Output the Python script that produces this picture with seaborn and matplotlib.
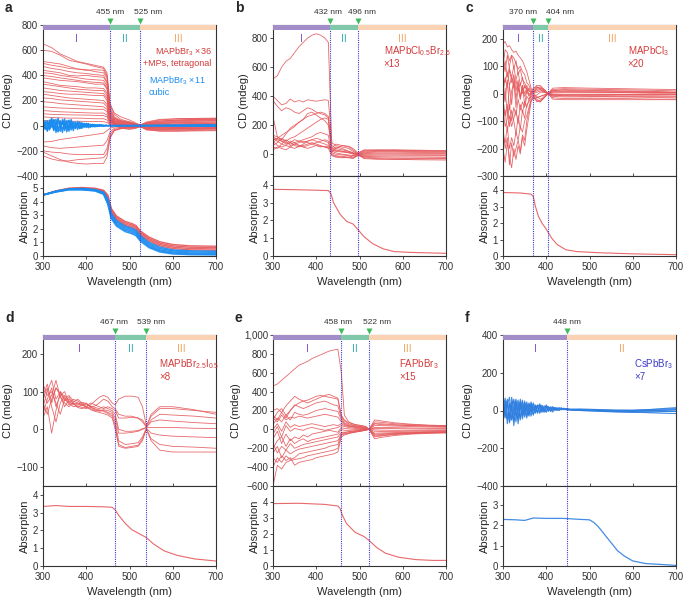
import numpy as np
import pandas as pd
import matplotlib.pyplot as plt
import seaborn as sns
from matplotlib.ticker import FuncFormatter

# ---------------- panel a : MAPbBr3 ----------------
wl_a = [300, 320, 340, 360, 380, 400, 420, 440, 448, 455, 465, 480, 500, 515, 525, 540, 570, 610, 650, 700]
cd_a_red = [
    [650, 620, 570, 540, 510, 495, 480, 465, 420, 180, 90, 50, 30, 15, 5, 25, 45, 55, 58, 60],
    [600, 590, 560, 520, 505, 490, 470, 455, 400, 150, 70, 40, 20, 10, 2, 20, 35, 45, 50, 52],
    [510, 500, 490, 470, 450, 445, 430, 420, 380, 160, 100, 70, 45, 20, 5, 15, 30, 40, 42, 45],
    [495, 480, 470, 455, 450, 440, 445, 440, 390, 130, 60, 30, 15, 5, 0, 10, 20, 30, 35, 38],
    [470, 455, 445, 430, 420, 415, 405, 400, 350, 120, 50, 20, 10, 5, 0, 5, 15, 22, 25, 28],
    [440, 430, 420, 400, 395, 400, 390, 385, 340, 110, 40, 15, 5, 0, -3, -5, 5, 12, 15, 18],
    [420, 415, 400, 390, 380, 370, 365, 360, 320, 100, 30, 10, 0, -5, -5, -10, 0, 5, 8, 10],
    [400, 390, 380, 370, 360, 350, 345, 340, 300, 90, 25, 5, -5, -8, -5, -15, -10, -5, 0, 2],
    [380, 370, 360, 355, 350, 340, 330, 330, 290, 80, 20, 0, -10, -10, -5, -20, -20, -15, -10, -8],
    [350, 335, 320, 315, 310, 300, 300, 295, 260, 70, 15, -5, -15, -12, -6, -25, -30, -25, -20, -18],
    [330, 320, 310, 300, 290, 285, 280, 280, 240, 60, 10, -10, -20, -15, -6, -30, -35, -35, -30, -28],
    [300, 290, 280, 275, 270, 265, 260, 255, 220, 50, 5, -15, -25, -18, -8, -35, -40, -40, -38, -35],
    [270, 265, 255, 250, 250, 245, 240, 240, 200, 45, 0, -20, -30, -20, -8, -30, -45, -45, -42, -40],
    [250, 240, 230, 220, 215, 210, 205, 200, 170, 40, 60, 40, 30, 15, 5, 30, 50, 55, 56, 58],
    [220, 215, 205, 200, 195, 190, 185, 180, 150, 35, 50, 35, 25, 12, 3, 20, 38, 45, 48, 50],
    [190, 185, 175, 170, 165, 160, 155, 150, 130, 30, 40, 30, 20, 10, 2, 15, 25, 35, 38, 40],
    [150, 145, 140, 138, 135, 132, 130, 130, 110, 25, 35, 25, 15, 8, 2, 10, 18, 25, 28, 30],
    [120, 115, 110, 108, 105, 102, 100, 100, 85, 20, 25, 18, 10, 5, 0, 5, 10, 15, 18, 20],
    [95, 90, 88, 86, 85, 84, 82, 80, 70, 15, 20, 12, 5, 2, 0, 0, 5, 8, 10, 12],
    [70, 65, 62, 60, 60, 58, 55, 55, 45, 10, 15, 8, 2, 0, -2, -5, -2, 0, 3, 5],
    [40, 38, 36, 35, 35, 34, 33, 32, 25, 5, 10, 5, 0, -2, -3, -10, -10, -8, -5, -3],
    [-130, -125, -110, -100, -90, -80, -70, -60, -40, -20, -10, -5, -5, -5, -5, -20, -25, -25, -22, -20],
    [-160, -175, -180, -175, -170, -165, -160, -155, -120, -50, -20, -15, -10, -8, -6, -25, -30, -30, -28, -25],
    [-200, -210, -215, -225, -230, -230, -228, -230, -180, -70, -30, -20, -15, -10, -7, -15, -20, -22, -22, -20],
    [-210, -240, -270, -290, -300, -305, -300, -300, -250, -100, -40, -25, -15, -10, -6, -12, -15, -18, -18, -16],
    [-240, -265, -280, -280, -270, -265, -260, -255, -220, -90, -35, -22, -12, -8, -6, -10, -12, -14, -14, -12],
]
wl_a_noise = list(range(300, 451, 5))
wl_a_tail = [465, 500, 550, 600, 650, 700]
cd_a_blue_noise = [
    [15, -30, 40, -10, 55, -35, 20, 60, -20, 35, -40, 25, 45, -15, 30, -25, 20, -10, 25, -15, 10, 18, -8, 12, -10, 8, -5, 6, -3, 4, 0],
    [-20, 25, -45, 30, -10, 50, -55, 15, 40, -30, 20, -50, 10, 35, -20, 15, -30, 25, -5, 20, -15, 5, 12, -10, 8, -6, 10, -4, 5, -2, 1],
    [30, 5, -25, 45, 10, -40, 35, -15, -45, 50, 5, -20, 40, -35, 15, 30, -10, -20, 15, -5, 20, -12, 5, 10, -8, 5, -6, 3, -4, 2, 0],
    [-5, 40, 10, -35, 25, 45, -20, -50, 30, 10, 55, -25, -5, 25, -40, 20, 10, -25, 5, 15, -10, 8, -12, 6, 5, -8, 4, -3, 2, -1, 0],
    [20, -15, -40, 20, 60, -10, -30, 45, 5, -55, 30, 15, -30, 50, 0, -20, 35, -15, -20, 10, 12, -18, 6, -5, 10, -4, 3, 6, -3, 1, 0],
    [-35, 10, 30, -25, -5, 35, 50, -40, 15, 25, -15, 40, -45, 0, 20, -10, 15, 30, -20, 5, -5, 15, -10, 8, -4, 6, -2, 4, -2, 3, 1],
]
cd_a_blue_tail = [
    [2, 1, 0, -2, -4, -5],
    [-1, 0, 2, 3, 4, 5],
    [1, -1, -2, -3, -3, -4],
    [0, 1, 1, 2, 2, 3],
    [-2, -2, -1, -1, 0, 0],
    [1, 2, 3, 4, 6, 7],
]
wl_a_abs = [300, 330, 360, 390, 420, 440, 450, 458, 470, 490, 505, 515, 525, 545, 570, 600, 640, 700]
abs_a_red = [
    [4.5, 4.8, 5.0, 5.05, 5.0, 4.85, 4.5, 3.5, 2.95, 2.55, 2.4, 2.25, 1.85, 1.4, 1.05, 0.85, 0.75, 0.72],
    [4.5, 4.8, 4.98, 5.02, 4.95, 4.8, 4.4, 3.4, 2.85, 2.45, 2.3, 2.15, 1.75, 1.3, 0.95, 0.75, 0.65, 0.62],
    [4.5, 4.78, 4.95, 5.0, 4.92, 4.75, 4.3, 3.3, 2.75, 2.35, 2.2, 2.05, 1.65, 1.2, 0.85, 0.65, 0.55, 0.52],
    [4.5, 4.78, 4.95, 4.98, 4.9, 4.72, 4.25, 3.2, 2.65, 2.25, 2.1, 1.95, 1.55, 1.1, 0.75, 0.55, 0.45, 0.42],
]
abs_a_blue = [
    [4.5, 4.78, 4.95, 4.98, 4.9, 4.7, 4.2, 3.15, 2.6, 2.2, 2.05, 1.9, 1.5, 1.0, 0.65, 0.45, 0.38, 0.35],
    [4.5, 4.76, 4.93, 4.95, 4.88, 4.68, 4.1, 3.05, 2.5, 2.1, 1.95, 1.8, 1.4, 0.9, 0.55, 0.38, 0.3, 0.28],
    [4.5, 4.75, 4.92, 4.93, 4.85, 4.65, 4.0, 2.95, 2.4, 2.0, 1.85, 1.7, 1.3, 0.8, 0.45, 0.3, 0.22, 0.2],
    [4.5, 4.74, 4.9, 4.9, 4.82, 4.6, 3.9, 2.85, 2.3, 1.9, 1.75, 1.6, 1.2, 0.7, 0.38, 0.22, 0.15, 0.13],
    [4.5, 4.72, 4.88, 4.88, 4.8, 4.55, 3.8, 2.75, 2.2, 1.8, 1.65, 1.5, 1.1, 0.62, 0.3, 0.15, 0.1, 0.08],
]

# ---------------- panel b : MAPbCl0.5Br2.5 ----------------
wl_b = [300, 310, 320, 330, 340, 350, 360, 370, 380, 390, 400, 410, 420, 428, 436,
        445, 460, 475, 485, 496, 510, 540, 580, 630, 700]
cd_b = [
    [520, 540, 600, 640, 660, 700, 740, 770, 800, 820, 830, 820, 800, 770, 60, 40, 30, 20, 10, 0, 15, 20, 20, 18, 15],
    [400, 370, 340, 350, 380, 360, 370, 360, 375, 370, 365, 370, 375, 370, 80, 60, 50, 40, 20, 5, 20, 25, 25, 22, 20],
    [370, 330, 300, 320, 310, 290, 280, 300, 320, 310, 290, 280, 270, 250, 40, 30, 20, 10, 0, -5, 10, 15, 15, 12, 10],
    [260, 120, 100, 140, 180, 200, 220, 240, 260, 270, 280, 290, 280, 260, 30, 20, 15, 10, 5, 0, 5, 8, 8, 6, 5],
    [100, 110, 130, 150, 170, 190, 220, 240, 280, 290, 270, 250, 230, 200, 20, 10, 0, -5, -10, -5, 0, 2, 2, 0, 0],
    [130, 120, 100, 90, 110, 120, 140, 160, 180, 200, 220, 240, 250, 240, 10, 0, -5, -10, -20, -8, -5, -5, -5, -6, -8],
    [120, 100, 90, 80, 70, 80, 90, 100, 110, 120, 140, 150, 140, 130, 0, -10, -15, -20, -25, -10, -10, -12, -12, -12, -12],
    [80, 110, 90, 70, 80, 100, 90, 80, 90, 100, 110, 100, 90, 80, -5, -15, -20, -25, -30, -10, -15, -18, -20, -20, -22],
    [60, 80, 110, 90, 60, 70, 80, 90, 80, 70, 80, 90, 100, 90, 20, 25, 20, 15, 5, 0, -20, -25, -28, -30, -32],
    [50, 40, 70, 100, 80, 60, 50, 70, 90, 100, 90, 80, 70, 60, 15, 40, 60, 50, 30, 5, -25, -30, -35, -38, -40],
    [90, 60, 50, 60, 90, 80, 60, 50, 60, 70, 60, 50, 55, 50, 40, 70, 60, 55, 40, 10, 25, 28, 30, 28, 25],
    [30, 50, 40, 30, 50, 70, 60, 50, 40, 50, 60, 55, 50, 45, 25, 50, 40, 20, 10, 3, 30, 30, 28, 25, 22],
    [110, 90, 70, 60, 50, 40, 55, 60, 70, 80, 70, 60, 50, 40, -10, -20, -25, -20, -10, -2, -30, -35, -35, -33, -30],
]
wl_b_abs = [300, 350, 400, 428, 434, 440, 455, 470, 485, 496, 510, 530, 555, 580, 620, 700]
abs_b = [[3.75, 3.73, 3.7, 3.68, 3.5, 3.0, 2.35, 1.95, 1.8, 1.5, 1.1, 0.7, 0.4, 0.25, 0.2, 0.15]]

# ---------------- panel c : MAPbCl3 ----------------
wl_c = list(range(300, 366, 5)) + [370, 378, 386, 395, 404, 415, 440, 500, 580, 650, 700]
cd_c = [
    [180, 190, 170, 175, 160, 150, 155, 140, 130, 120, 100, 80, 50, 20] + [5, 10, 15, 10, 0, 10, 15, 12, 10, 8, 5],
    [100, 160, 150, 120, 140, 130, 110, 90, 100, 80, 70, 40, 30, 10] + [0, 20, 25, 15, 0, -5, -8, -10, -12, -14, -15],
    [60, 40, 80, 30, 60, 20, 50, 10, 40, 0, 30, 10, 20, 0] + [5, 25, 20, 10, 0, 15, 18, 16, 14, 12, 10],
    [-50, 20, -80, 30, -40, 60, -20, 40, -10, 30, 0, 20, -5, 5] + [0, -10, -20, -15, 0, -15, -18, -18, -18, -20, -20],
    [-100, -60, -140, -80, -120, -90, -60, -110, -40, -70, -30, -50, -20, -10] + [-5, -30, -25, -10, 0, -5, -5, -4, -3, -2, -2],
    [-150, -180, -120, -200, -160, -190, -140, -170, -120, -140, -100, -80, -50, -20] + [-10, -20, -30, -15, 0, 12, 12, 10, 8, 6, 5],
    [-200, -250, -180, -230, -270, -200, -240, -190, -220, -160, -190, -130, -80, -30] + [-10, -5, 5, 5, 0, -10, -12, -12, -11, -10, -10],
    [20, -30, 50, -60, 10, 40, -50, 20, -20, 30, -40, 10, -10, 0] + [10, 15, 20, 15, 0, 5, 6, 5, 4, 3, 3],
    [120, 80, 140, 90, 60, 100, 50, 80, 30, 60, 20, 30, 10, 5] + [15, 30, 30, 15, 0, 20, 22, 20, 18, 16, 15],
    [-20, -80, -40, -120, -60, -100, -150, -80, -130, -60, -90, -40, -30, -10] + [-15, -25, -30, -15, 0, -20, -22, -22, -22, -22, -22],
    [0, 60, 20, 90, 40, 70, 10, 50, -20, 20, -10, 10, 0, -5] + [-5, -15, -10, -5, 0, 8, 8, 7, 6, 5, 4],
    [-60, -120, -90, -40, -100, -50, -80, -20, -60, -30, -50, -10, -20, -5] + [0, 5, 10, 8, 0, -8, -8, -7, -6, -6, -5],
    [80, 120, 60, 100, 140, 90, 120, 70, 90, 50, 40, 20, 10, 5] + [20, 25, 15, 5, 0, 2, 3, 3, 3, 2, 2],
    [-120, -200, -160, -260, -180, -230, -200, -170, -210, -150, -170, -100, -60, -25] + [-20, -15, -10, -5, 0, -3, -3, -3, -3, -3, -3],
]
wl_c_abs = [300, 340, 365, 370, 375, 382, 390, 398, 404, 412, 425, 445, 470, 520, 600, 700]
abs_c = [[3.85, 3.82, 3.75, 3.6, 3.0, 2.4, 2.0, 1.7, 1.45, 1.1, 0.7, 0.38, 0.27, 0.2, 0.13, 0.08]]

# ---------------- panel d : MAPbBr2.5I0.5 ----------------
wl_d = list(range(300, 461, 10)) + [467, 475, 490, 505, 520, 530, 539, 550, 570, 600, 650, 700]
cd_d = [
    [90, 120, 70, 110, 95, 80, 90, 75, 70, 65, 60, 65, 75, 85, 90, 85, 70] + [65, 80, 88, 88, 85, 60, 10, 35, 55, 55, 50, 45],
    [60, 100, 130, 80, 100, 75, 85, 70, 65, 72, 68, 60, 62, 70, 80, 75, 60] + [55, 40, 35, 35, 30, 25, 8, 40, 60, 60, 52, 40],
    [40, 80, 110, 60, 90, 100, 70, 80, 75, 68, 60, 70, 65, 60, 55, 60, 55] + [50, 30, 30, 32, 30, 20, 6, 25, 40, 38, 35, 30],
    [100, 70, 90, 130, 85, 70, 60, 72, 80, 70, 65, 62, 58, 55, 60, 55, 50] + [40, 0, -5, -5, -3, 2, 5, 20, 25, 22, 18, 15],
    [80, 110, 60, 20, 70, 90, 75, 65, 70, 62, 70, 58, 55, 50, 52, 50, 45] + [30, -10, -10, -8, -5, 0, 5, 5, 5, 5, 3, 2],
    [120, 90, 100, 70, 40, 80, 70, 60, 62, 58, 55, 60, 52, 48, 50, 45, 40] + [20, -30, -40, -38, -35, -20, 3, -10, -15, -18, -20, -22],
    [70, 40, 80, 110, 90, 60, 80, 68, 60, 65, 58, 55, 50, 52, 48, 42, 35] + [10, -45, -50, -48, -45, -30, 2, -25, -40, -45, -47, -50],
    [30, 60, -10, 50, 100, 85, 65, 70, 58, 55, 60, 52, 48, 45, 42, 38, 30] + [0, -40, -48, -45, -42, -25, 0, -30, -55, -60, -60, -60],
]
wl_d_abs = [300, 330, 360, 400, 440, 460, 467, 475, 490, 505, 520, 539, 555, 580, 610, 650, 700]
abs_d = [[3.35, 3.4, 3.35, 3.35, 3.33, 3.3, 3.15, 2.85, 2.4, 2.05, 1.85, 1.6, 1.25, 0.85, 0.6, 0.4, 0.28]]

# ---------------- panel e : FAPbBr3 ----------------
wl_e = list(range(300, 451, 10)) + [458, 465, 475, 490, 505, 515, 522, 535, 550, 580, 620, 660, 700]
cd_e = [
    [460, 480, 520, 560, 600, 640, 680, 700, 720, 750, 770, 790, 810, 830, 840, 850] + [600, 150, 80, 50, 40, 30, 0, 60, 50, 45, 40, 35, 30],
    [200, 220, 180, 250, 300, 350, 320, 300, 280, 300, 320, 340, 360, 370, 350, 330] + [150, 100, 70, 50, 40, 25, 0, 100, 90, 70, 55, 45, 40],
    [150, 100, 180, 120, 200, 250, 280, 300, 310, 330, 350, 360, 350, 340, 330, 320] + [140, 90, 60, 40, 30, 20, 0, 80, 75, 60, 50, 42, 38],
    [100, 180, 220, 150, 200, 260, 240, 220, 240, 260, 280, 290, 300, 280, 260, 250] + [120, 70, 50, 35, 25, 15, 0, 60, 60, 50, 40, 35, 30],
    [50, 120, 80, 150, 100, 180, 160, 150, 160, 180, 200, 210, 220, 210, 200, 190] + [100, 60, 40, 30, 20, 10, 0, 40, 40, 35, 30, 25, 22],
    [120, 80, 150, 100, 130, 120, 140, 130, 120, 130, 140, 150, 160, 150, 140, 130] + [80, 50, 35, 25, 15, 8, 0, 20, 20, 18, 15, 12, 10],
    [0, 60, -20, 80, 20, 50, 30, 40, 50, 60, 50, 40, 30, 40, 50, 40] + [60, 40, 30, 20, 10, 5, 0, 10, 10, 8, 5, 3, 2],
    [-50, 30, -80, 40, -20, 10, 0, -10, 10, 20, 10, 0, -10, 0, 10, 20] + [40, 30, 20, 10, 5, 2, 0, -5, -8, -10, -10, -10, -10],
    [-100, -20, -150, -50, -120, -80, -100, -60, -80, -50, -40, -30, -20, -10, -20, -30] + [20, 10, 5, 0, 0, 0, 0, -20, -22, -22, -20, -18, -15],
    [-200, -120, -80, -180, -100, -150, -120, -100, -130, -110, -100, -90, -80, -70, -60, -50] + [0, -10, -10, -8, -5, -3, 0, -40, -38, -35, -30, -25, -22],
    [-150, -250, -180, -220, -150, -200, -180, -160, -150, -140, -130, -120, -110, -100, -90, -80] + [-30, -30, -25, -18, -10, -5, 0, -60, -55, -45, -38, -32, -28],
    [-250, -180, -300, -220, -260, -230, -210, -200, -190, -180, -170, -160, -150, -140, -130, -120] + [-50, -45, -35, -25, -15, -6, 0, -80, -70, -55, -45, -38, -35],
    [-300, -350, -280, -330, -300, -380, -350, -340, -330, -320, -300, -290, -280, -270, -260, -240] + [-80, -60, -45, -30, -18, -8, 0, -100, -85, -65, -50, -42, -38],
    [-600, -380, -420, -350, -330, -320, -310, -300, -280, -270, -260, -250, -240, -230, -220, -200] + [-60, -50, -40, -28, -16, -7, 0, -70, -65, -50, -42, -36, -32],
    [-400, -300, -350, -280, -320, -300, -260, -250, -240, -230, -220, -210, -200, -180, -170, -160] + [-40, -35, -25, -18, -10, -4, 0, -50, -48, -40, -35, -30, -26],
]
wl_e_abs = [300, 360, 420, 450, 455, 460, 470, 490, 510, 522, 540, 560, 590, 630, 670, 700]
abs_e = [[3.9, 3.92, 3.85, 3.75, 3.6, 3.2, 2.65, 2.1, 1.85, 1.6, 1.15, 0.8, 0.55, 0.4, 0.35, 0.35]]

# ---------------- panel f : CsPbBr3 ----------------
wl_f = list(range(300, 446, 5)) + [455, 480, 520, 560, 600, 640, 680, 700]
cd_f = [
    [20, -40, 50, -60, 30, 60, -30, 10, 50, -20, 40, -30, 20, 30, -25, 15, 25, -15, 20, 10, -10, 15, 5, -8, 12, 5, 10, 8, 12, 10] + [5, 3, 0, -3, -5, -3, 2, 5],
    [-30, 50, -70, 40, -50, 20, 60, -40, 30, -45, 20, 45, -20, 10, 35, -10, 20, 30, -10, 15, 25, 0, 20, 10, 5, 15, 8, 12, 6, 8] + [6, 8, 5, 2, 0, 5, 12, 15],
    [40, -20, 30, 70, -50, -10, 40, -70, 10, 45, -35, 20, 35, -10, 15, 25, -5, 10, 28, 0, 15, 20, -5, 18, 10, 0, 15, 5, 10, 4] + [3, 0, -2, -5, -8, -12, -15, -16],
    [-60, 10, 60, -30, 45, -80, 20, 55, -50, 25, 10, -40, 40, 5, -20, 30, 15, -10, 25, 5, -5, 20, 10, 0, 15, 8, 2, 12, 6, 6] + [4, 2, 1, 0, 2, 5, 8, 10],
    [10, 65, -20, -50, 70, 0, -60, 35, 40, -30, 50, -5, -25, 40, 10, -15, 30, 20, -5, 25, 10, -5, 15, 12, 0, 10, 12, 4, 8, 5] + [4, 0, -4, -8, -10, -8, -5, -4],
    [50, -10, -45, 30, 20, -55, 50, 15, -40, 55, -10, 25, -30, 45, 0, 20, -15, 35, 5, -5, 30, 10, 0, 20, 5, 12, 0, 10, 8, 7] + [5, 2, -1, -3, -2, 0, 3, 4],
    [-20, 30, 40, -65, 10, 50, -20, -45, 60, 5, -25, 35, 15, -30, 40, 5, -10, 25, 15, -10, 20, 15, -2, 8, 15, 2, 10, 14, 4, 9] + [7, 5, 3, 1, 0, -2, -4, -5],
]
wl_f_abs = [300, 330, 350, 370, 400, 440, 480, 500, 510, 520, 535, 550, 565, 580, 600, 630, 670, 700]
abs_f = [[2.3, 2.28, 2.25, 2.37, 2.35, 2.35, 2.3, 2.28, 2.15, 1.95, 1.55, 1.15, 0.75, 0.5, 0.25, 0.12, 0.07, 0.03]]

# colours
RED = '#e5585b'
BLUE = '#1a8cf0'
BLUE_F = '#2f7fe0'
VLINE = '#3a3ad0'
GREEN_MARK = '#3dbb5c'
BAR_COLS = {'I': '#a38dc9', 'II': '#7fc9aa', 'III': '#fbd2b4'}
ROMAN_COLS = {'I': '#8c52c4', 'II': '#36aeb0', 'III': '#f4a763'}

sns.set_theme(style='ticks')
plt.rcParams['font.family'] = ['Liberation Sans', 'DejaVu Sans']
plt.rcParams['mathtext.fontset'] = 'custom'
plt.rcParams['mathtext.rm'] = 'Liberation Sans'
plt.rcParams['mathtext.it'] = 'Liberation Sans:italic'
plt.rcParams['axes.edgecolor'] = '#333333'
plt.rcParams['axes.linewidth'] = 0.8

W, H = 685, 598
fig = plt.figure(figsize=(W / 100, H / 100), dpi=100)


def add_axes(left, top, width, height):
    return fig.add_axes([left / W, 1 - (top + height) / H, width / W, height / H])


def long_form(grid, curves):
    rows = []
    for i, vals in enumerate(curves):
        for w, v in zip(grid, vals, strict=True):
            rows.append((i, w, v))
    return pd.DataFrame(rows, columns=['curve', 'wl', 'val'])


def draw(ax, grid, curves, color, lw=0.6, alpha=0.9):
    df = long_form(grid, curves)
    sns.lineplot(data=df, x='wl', y='val', units='curve', estimator=None, sort=False,
                 color=color, lw=lw, alpha=alpha, ax=ax, legend=False)


def style_panel(ax_cd, ax_abs, letter, marks, cd_lim, cd_ticks, abs_lim, abs_ticks,
                fmt=None, label_shift=(0, 8)):
    names = ['I', 'II', 'III'] if len(marks) == 2 else ['I', 'II']
    bar_names = ['I', 'II', 'III'] if len(marks) == 2 else ['I', 'III']
    edges = [300] + marks + [700]
    tr = ax_cd.get_xaxis_transform()
    for k in range(len(edges) - 1):
        ax_cd.axvspan(edges[k], edges[k + 1], ymin=0.964, ymax=1.0,
                      color=BAR_COLS[bar_names[k]], lw=0, zorder=5)
        ax_cd.text((edges[k] + edges[k + 1]) / 2, 0.905, names[k], transform=tr,
                   ha='center', va='center', fontsize=7.5,
                   color=ROMAN_COLS[bar_names[k]])
    for m, dx in zip(marks, label_shift):
        ax_cd.plot([m], [1.028], marker='v', color=GREEN_MARK, ms=4.5, mec='none',
                   transform=tr, clip_on=False, zorder=6)
        ax_cd.annotate(f'{m} nm', xy=(m, 1.082), xycoords=tr, xytext=(dx, 0),
                       textcoords='offset pixels', ha='center', va='center',
                       fontsize=6, color='#333333')
        for ax in (ax_cd, ax_abs):
            ax.axvline(m, color=VLINE, ls=(0, (1, 1)), lw=0.8, zorder=4)

    for ax in (ax_cd, ax_abs):
        ax.set_xlim(300, 700)
        ax.set_xticks([300, 400, 500, 600, 700])
        ax.tick_params(axis='both', labelsize=7, colors='#333333', width=0.6)
        ax.tick_params(axis='y', length=2, pad=1.5, direction='out')
    ax_cd.set_ylim(*cd_lim)
    ax_cd.set_yticks(cd_ticks)
    if fmt is not None:
        ax_cd.yaxis.set_major_formatter(fmt)
    ax_cd.tick_params(axis='x', direction='in', length=2.5, labelbottom=False)
    ax_cd.set_xlabel('')
    ax_cd.set_ylabel('CD (mdeg)', fontsize=8, labelpad=2)

    ax_abs.set_ylim(*abs_lim)
    ax_abs.set_yticks(abs_ticks)
    ax_abs.tick_params(axis='x', direction='out', length=2, pad=2)
    ax_abs.set_xlabel('Wavelength (nm)', fontsize=8, labelpad=4)
    ax_abs.set_ylabel('Absorption', fontsize=8, labelpad=2)

    pos = ax_cd.get_position()
    fig.text(pos.x0 - 38 / W, pos.y1 + 13 / H, letter, fontsize=10, fontweight='bold',
             ha='left', va='baseline')


col_left = [43, 273, 503]
row_top = [25, 335]
AW, CDH, ABH = 173, 151, 80

panels = {}
for r in range(2):
    for c in range(3):
        ax_cd = add_axes(col_left[c], row_top[r], AW, CDH)
        ax_abs = add_axes(col_left[c], row_top[r] + CDH, AW, ABH)
        panels[(r, c)] = (ax_cd, ax_abs)

NOTE = dict(fontsize=7, va='center', linespacing=1.15)
NOTE_A = dict(fontsize=6.5, va='center', linespacing=1.15)

# a
ax_cd, ax_abs = panels[(0, 0)]
draw(ax_cd, wl_a, cd_a_red, RED, lw=0.6)
draw(ax_cd, wl_a_noise + wl_a_tail, [n + t for n, t in zip(cd_a_blue_noise, cd_a_blue_tail)], BLUE, lw=0.9, alpha=0.95)
draw(ax_abs, wl_a_abs, abs_a_red, RED, lw=1.0)
draw(ax_abs, wl_a_abs, abs_a_blue, BLUE, lw=1.1)
style_panel(ax_cd, ax_abs, 'a', [455, 525], (-400, 800), range(-400, 801, 200), (0, 5.9), range(0, 6))
ax_cd.text(0.975, 0.79, 'MAPbBr$_3$ ×36\n+MPs, tetragonal', transform=ax_cd.transAxes,
           color='#d33a3a', ha='right', multialignment='right', **NOTE_A)
ax_cd.text(0.61, 0.60, 'MAPbBr$_3$ ×11\ncubic', transform=ax_cd.transAxes,
           color=BLUE, **NOTE_A)

# b
ax_cd, ax_abs = panels[(0, 1)]
draw(ax_cd, wl_b, cd_b, RED)
draw(ax_abs, wl_b_abs, abs_b, RED, lw=0.8)
style_panel(ax_cd, ax_abs, 'b', [432, 496], (-150, 890), range(0, 801, 200), (0, 4.5), range(0, 5),
            label_shift=(-2, 4))
ax_cd.text(0.64, 0.79, 'MAPbCl$_{0.5}$Br$_{2.5}$\n×13', transform=ax_cd.transAxes,
           color='#d33a3a', **NOTE)

# c
ax_cd, ax_abs = panels[(0, 2)]
draw(ax_cd, wl_c, cd_c, RED)
draw(ax_abs, wl_c_abs, abs_c, RED, lw=0.8)
style_panel(ax_cd, ax_abs, 'c', [370, 404], (-300, 250), range(-300, 201, 100), (0, 4.85), range(0, 5),
            label_shift=(-10, 12))
ax_cd.text(0.72, 0.79, 'MAPbCl$_3$\n×20', transform=ax_cd.transAxes,
           color='#d33a3a', **NOTE)

# d
ax_cd, ax_abs = panels[(1, 0)]
draw(ax_cd, wl_d, cd_d, RED)
draw(ax_abs, wl_d_abs, abs_d, RED, lw=0.8)
style_panel(ax_cd, ax_abs, 'd', [467, 539], (-150, 250), range(-100, 201, 100), (0, 4.5), range(0, 5),
            label_shift=(-1, 5))
ax_cd.text(0.67, 0.77, 'MAPbBr$_{2.5}$I$_{0.5}$\n×8', transform=ax_cd.transAxes,
           color='#d33a3a', **NOTE)

# e
ax_cd, ax_abs = panels[(1, 1)]
draw(ax_cd, wl_e, cd_e, RED)
draw(ax_abs, wl_e_abs, abs_e, RED, lw=0.8)
style_panel(ax_cd, ax_abs, 'e', [458, 522], (-600, 1000), range(-600, 1001, 200), (0, 5.0), range(0, 5),
            fmt=FuncFormatter(lambda v, p: f'{v:,.0f}'.replace('-', '\u2212')), label_shift=(-3, 8))
ax_cd.text(0.73, 0.77, 'FAPbBr$_3$\n×15', transform=ax_cd.transAxes,
           color='#d33a3a', **NOTE)

# f
ax_cd, ax_abs = panels[(1, 2)]
draw(ax_cd, wl_f, cd_f, BLUE_F, lw=0.8)
draw(ax_abs, wl_f_abs, abs_f, BLUE_F, lw=0.9)
style_panel(ax_cd, ax_abs, 'f', [448], (-400, 400), range(-400, 401, 200), (0, 3.95), range(0, 4),
            label_shift=(0,))
ax_cd.text(0.76, 0.77, 'CsPbBr$_3$\n×7', transform=ax_cd.transAxes,
           color='#3b3bc8', **NOTE)

fig.savefig('out.png', dpi=100)
